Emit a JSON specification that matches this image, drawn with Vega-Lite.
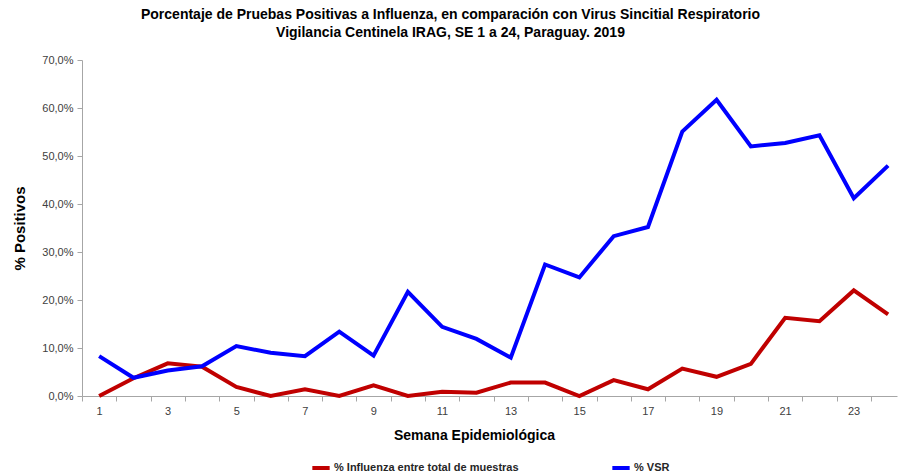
{
  "$schema": "https://vega.github.io/schema/vega-lite/v6.json",
  "width": 815,
  "height": 336,
  "autosize": "none",
  "padding": {"left": 82, "top": 60, "right": 2, "bottom": 76},
  "background": "white",
  "config": {
    "view": {"stroke": null},
    "font": "Liberation Sans"
  },
  "title": {
    "text": ["Porcentaje de Pruebas Positivas a Influenza, en comparación con Virus Sincitial Respiratorio", "Vigilancia Centinela IRAG, SE 1 a 24, Paraguay. 2019"],
    "fontSize": 14,
    "fontWeight": "bold",
    "font": "Liberation Sans",
    "color": "#000000",
    "anchor": "middle",
    "dx": -39,
    "offset": 14,
    "lineHeight": 18
  },
  "data": {
    "values": [
      {"semana": 1, "serie": "% Influenza entre total de muestras", "valor": 0.0},
      {"semana": 2, "serie": "% Influenza entre total de muestras", "valor": 3.7},
      {"semana": 3, "serie": "% Influenza entre total de muestras", "valor": 6.8},
      {"semana": 4, "serie": "% Influenza entre total de muestras", "valor": 6.1},
      {"semana": 5, "serie": "% Influenza entre total de muestras", "valor": 1.9},
      {"semana": 6, "serie": "% Influenza entre total de muestras", "valor": 0.0},
      {"semana": 7, "serie": "% Influenza entre total de muestras", "valor": 1.4},
      {"semana": 8, "serie": "% Influenza entre total de muestras", "valor": 0.0},
      {"semana": 9, "serie": "% Influenza entre total de muestras", "valor": 2.2},
      {"semana": 10, "serie": "% Influenza entre total de muestras", "valor": 0.0},
      {"semana": 11, "serie": "% Influenza entre total de muestras", "valor": 0.9},
      {"semana": 12, "serie": "% Influenza entre total de muestras", "valor": 0.7},
      {"semana": 13, "serie": "% Influenza entre total de muestras", "valor": 2.8},
      {"semana": 14, "serie": "% Influenza entre total de muestras", "valor": 2.8},
      {"semana": 15, "serie": "% Influenza entre total de muestras", "valor": 0.0},
      {"semana": 16, "serie": "% Influenza entre total de muestras", "valor": 3.3},
      {"semana": 17, "serie": "% Influenza entre total de muestras", "valor": 1.4},
      {"semana": 18, "serie": "% Influenza entre total de muestras", "valor": 5.7},
      {"semana": 19, "serie": "% Influenza entre total de muestras", "valor": 4.0},
      {"semana": 20, "serie": "% Influenza entre total de muestras", "valor": 6.7},
      {"semana": 21, "serie": "% Influenza entre total de muestras", "valor": 16.3},
      {"semana": 22, "serie": "% Influenza entre total de muestras", "valor": 15.6},
      {"semana": 23, "serie": "% Influenza entre total de muestras", "valor": 22.0},
      {"semana": 24, "serie": "% Influenza entre total de muestras", "valor": 17.0},
      {"semana": 1, "serie": "% VSR", "valor": 8.3},
      {"semana": 2, "serie": "% VSR", "valor": 3.8},
      {"semana": 3, "serie": "% VSR", "valor": 5.3},
      {"semana": 4, "serie": "% VSR", "valor": 6.2},
      {"semana": 5, "serie": "% VSR", "valor": 10.4},
      {"semana": 6, "serie": "% VSR", "valor": 9.0},
      {"semana": 7, "serie": "% VSR", "valor": 8.3},
      {"semana": 8, "serie": "% VSR", "valor": 13.4},
      {"semana": 9, "serie": "% VSR", "valor": 8.4},
      {"semana": 10, "serie": "% VSR", "valor": 21.7},
      {"semana": 11, "serie": "% VSR", "valor": 14.4},
      {"semana": 12, "serie": "% VSR", "valor": 11.9},
      {"semana": 13, "serie": "% VSR", "valor": 8.0},
      {"semana": 14, "serie": "% VSR", "valor": 27.4},
      {"semana": 15, "serie": "% VSR", "valor": 24.7},
      {"semana": 16, "serie": "% VSR", "valor": 33.3},
      {"semana": 17, "serie": "% VSR", "valor": 35.2},
      {"semana": 18, "serie": "% VSR", "valor": 55.1},
      {"semana": 19, "serie": "% VSR", "valor": 61.7},
      {"semana": 20, "serie": "% VSR", "valor": 52.0},
      {"semana": 21, "serie": "% VSR", "valor": 52.7},
      {"semana": 22, "serie": "% VSR", "valor": 54.3},
      {"semana": 23, "serie": "% VSR", "valor": 41.2},
      {"semana": 24, "serie": "% VSR", "valor": 48.0}
    ]
  },
  "mark": {"type": "line", "strokeWidth": 4, "strokeJoin": "miter", "clip": false},
  "encoding": {
    "x": {
      "field": "semana",
      "type": "quantitative",
      "scale": {"domain": [0.5, 24.26], "nice": false, "zero": false},
      "axis": {
        "title": "Semana Epidemiológica",
        "titleFontSize": 14,
        "titleFontWeight": "bold",
        "titleColor": "#000000",
        "titlePadding": 12,
        "titleX": 392,
        "values": [0.5, 1.5, 2.5, 3.5, 4.5, 5.5, 6.5, 7.5, 8.5, 9.5, 10.5, 11.5, 12.5, 13.5, 14.5, 15.5, 16.5, 17.5, 18.5, 19.5, 20.5, 21.5, 22.5, 23.5],
        "labelExpr": "(datum.value + 0.5) % 2 == 1 ? format(datum.value + 0.5, 'd') : ''",
        "labelOffset": 17,
        "labelOverlap": false,
        "labelBound": false,
        "labelFlush": false,
        "labelFontSize": 11,
        "labelColor": "#404040",
        "labelPadding": 4,
        "tickSize": 5,
        "tickColor": "#A6A6A6",
        "domainColor": "#A6A6A6",
        "grid": false
      }
    },
    "y": {
      "field": "valor",
      "type": "quantitative",
      "scale": {"domain": [0, 70], "nice": false},
      "axis": {
        "title": "% Positivos",
        "titleFontSize": 15,
        "titleFontWeight": "bold",
        "titleColor": "#000000",
        "titlePadding": 14,
        "values": [0, 10, 20, 30, 40, 50, 60, 70],
        "labelExpr": "replace(format(datum.value, '.1f'), '.', ',') + '%'",
        "labelFontSize": 11,
        "labelColor": "#404040",
        "labelPadding": 4,
        "tickSize": 5,
        "tickColor": "#A6A6A6",
        "domainColor": "#A6A6A6",
        "grid": false
      }
    },
    "color": {
      "field": "serie",
      "type": "nominal",
      "scale": {"domain": ["% Influenza entre total de muestras", "% VSR"], "range": ["#C00000", "#0000FF"]},
      "legend": {
        "title": null,
        "orient": "none",
        "direction": "horizontal",
        "legendX": 228,
        "legendY": 397,
        "symbolType": "stroke",
        "symbolStrokeWidth": 4,
        "symbolSize": 300,
        "labelFontSize": 11,
        "labelFontWeight": "bold",
        "labelColor": "#262626",
        "labelOffset": 2,
        "labelLimit": 300,
        "columnPadding": 85
      }
    }
  }
}
